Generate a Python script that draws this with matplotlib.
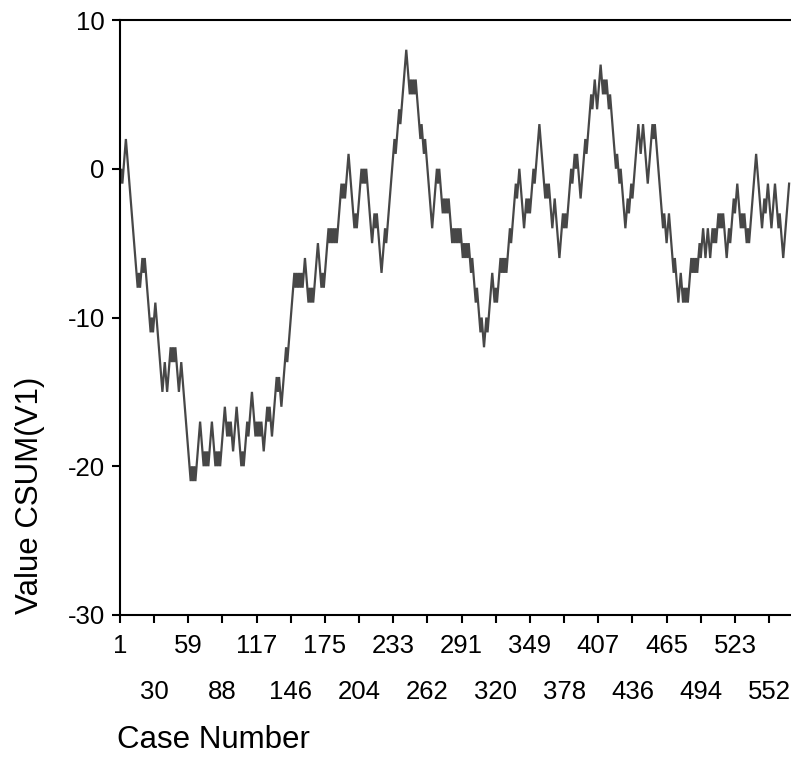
import numpy as np
import matplotlib
matplotlib.use("Agg")
from matplotlib import pyplot as plt

plt.rcParams["font.family"] = ["Liberation Sans", "DejaVu Sans"]

# CSUM(V1), one value per case (rows of 20 cases)
csum_v1 = [
    -1, 0, -1, 0, 1, 2, 1, 0, -1, -2, -3, -4, -5, -6, -7, -8, -7, -8, -7, -6,
    -7, -6, -7, -8, -9, -10, -11, -10, -11, -10, -9, -10, -11, -12, -13, -14, -15, -14, -13, -14,
    -15, -14, -13, -12, -13, -12, -13, -12, -13, -14, -15, -14, -13, -14, -15, -16, -17, -18, -19, -20,
    -21, -20, -21, -20, -21, -20, -19, -18, -17, -18, -19, -20, -19, -20, -19, -20, -19, -18, -17, -18,
    -19, -20, -19, -20, -19, -20, -19, -18, -17, -16, -17, -18, -17, -18, -17, -18, -19, -18, -17, -16,
    -17, -18, -19, -20, -19, -20, -19, -18, -17, -18, -17, -16, -15, -16, -17, -18, -17, -18, -17, -18,
    -17, -18, -19, -18, -17, -16, -17, -16, -17, -18, -17, -16, -15, -14, -15, -14, -15, -16, -15, -14,
    -13, -12, -13, -12, -11, -10, -9, -8, -7, -8, -7, -8, -7, -8, -7, -8, -7, -6, -7, -8,
    -9, -8, -9, -8, -9, -8, -7, -6, -5, -6, -7, -8, -7, -8, -7, -6, -5, -4, -5, -4,
    -5, -4, -5, -4, -5, -4, -3, -2, -1, -2, -1, -2, -1, 0, 1, 0, -1, -2, -3, -4,
    -3, -4, -3, -2, -1, 0, -1, 0, -1, 0, -1, -2, -3, -4, -5, -4, -3, -4, -3, -4,
    -5, -6, -7, -6, -5, -4, -5, -4, -3, -2, -1, 0, 1, 2, 1, 2, 3, 4, 3, 4,
    5, 6, 7, 8, 7, 6, 5, 6, 5, 6, 5, 6, 5, 4, 3, 2, 3, 2, 1, 2,
    1, 0, -1, -2, -3, -4, -3, -2, -1, 0, -1, 0, -1, -2, -3, -2, -3, -2, -3, -2,
    -3, -4, -5, -4, -5, -4, -5, -4, -5, -4, -5, -6, -5, -6, -5, -6, -5, -6, -7, -6,
    -7, -8, -9, -8, -9, -10, -11, -10, -11, -12, -11, -10, -11, -10, -9, -8, -7, -8, -9, -8,
    -9, -8, -7, -6, -7, -6, -7, -6, -7, -6, -5, -4, -5, -4, -3, -2, -1, -2, -1, 0,
    -1, -2, -3, -4, -3, -2, -3, -2, -3, -2, -1, 0, -1, 0, 1, 2, 3, 2, 1, 0,
    -1, -2, -1, -2, -1, -2, -3, -4, -3, -2, -3, -4, -5, -6, -5, -4, -3, -4, -3, -4,
    -3, -2, -1, 0, -1, 0, 1, 0, 1, 0, -1, -2, -1, 0, 1, 2, 1, 2, 3, 4,
    5, 4, 5, 6, 5, 4, 5, 6, 7, 6, 5, 6, 5, 6, 5, 4, 5, 4, 3, 2,
    1, 0, 1, 0, -1, 0, -1, -2, -3, -4, -3, -2, -3, -2, -1, -2, -1, 0, 1, 2,
    3, 2, 1, 2, 3, 2, 1, 0, -1, 0, 1, 2, 3, 2, 3, 2, 1, 0, -1, -2,
    -3, -4, -3, -4, -5, -4, -3, -4, -5, -6, -7, -6, -7, -8, -9, -8, -7, -8, -9, -8,
    -9, -8, -9, -8, -7, -6, -7, -6, -7, -6, -7, -6, -5, -6, -5, -4, -5, -6, -5, -4,
    -5, -6, -5, -4, -5, -4, -5, -4, -3, -4, -3, -4, -3, -4, -5, -6, -5, -4, -5, -4,
    -3, -2, -3, -2, -1, -2, -3, -4, -3, -4, -3, -4, -5, -4, -5, -4, -3, -2, -1, 0,
    1, 0, -1, -2, -3, -4, -3, -2, -3, -2, -1, -2, -3, -4, -3, -2, -1, -2, -3, -4,
    -3, -4, -5, -6, -5, -4, -3, -2, -1,
]
case_number = list(range(1, len(csum_v1) + 1))

# tick labels: upper row and lower (staggered) row
upper_ticks = [1, 59, 117, 175, 233, 291, 349, 407, 465, 523]
lower_ticks = [30, 88, 146, 204, 262, 320, 378, 436, 494, 552]
y_ticks = [-30, -20, -10, 0, 10]

fig = plt.figure(figsize=(7.91, 7.79), dpi=100)
ax = fig.add_axes([120 / 791, 1 - 615 / 779, 671 / 791, 595 / 779])

ax.plot(case_number, csum_v1, color="#474747", lw=1.6, solid_joinstyle="miter")

ax.set_xlim(1, 570.6)
ax.set_ylim(-30, 10)

ax.set_yticks(y_ticks)
ax.set_yticklabels([str(t) for t in y_ticks])
ax.set_xticks(upper_ticks)
ax.set_xticklabels([str(t) for t in upper_ticks])
ax.set_xticks(lower_ticks, minor=True)
ax.set_xticklabels([str(t) for t in lower_ticks], minor=True)

ax.tick_params(which="both", direction="out", length=6, width=1.5, labelsize=18.5, color="black")
ax.tick_params(axis="x", which="major", pad=8)
ax.tick_params(axis="x", which="minor", pad=41)
ax.tick_params(axis="y", pad=5)

for side in ["left", "bottom", "top"]:
    ax.spines[side].set_linewidth(1.5)
ax.spines["right"].set_visible(False)

fig.text(117 / 791, 1 - 740 / 779, "Case Number", fontsize=22.5, ha="left", va="center")
fig.text(30 / 791, 1 - 614 / 779, "Value CSUM(V1)", fontsize=22.5, rotation=90,
         ha="center", va="bottom")

fig.savefig("out.png", dpi=100)
